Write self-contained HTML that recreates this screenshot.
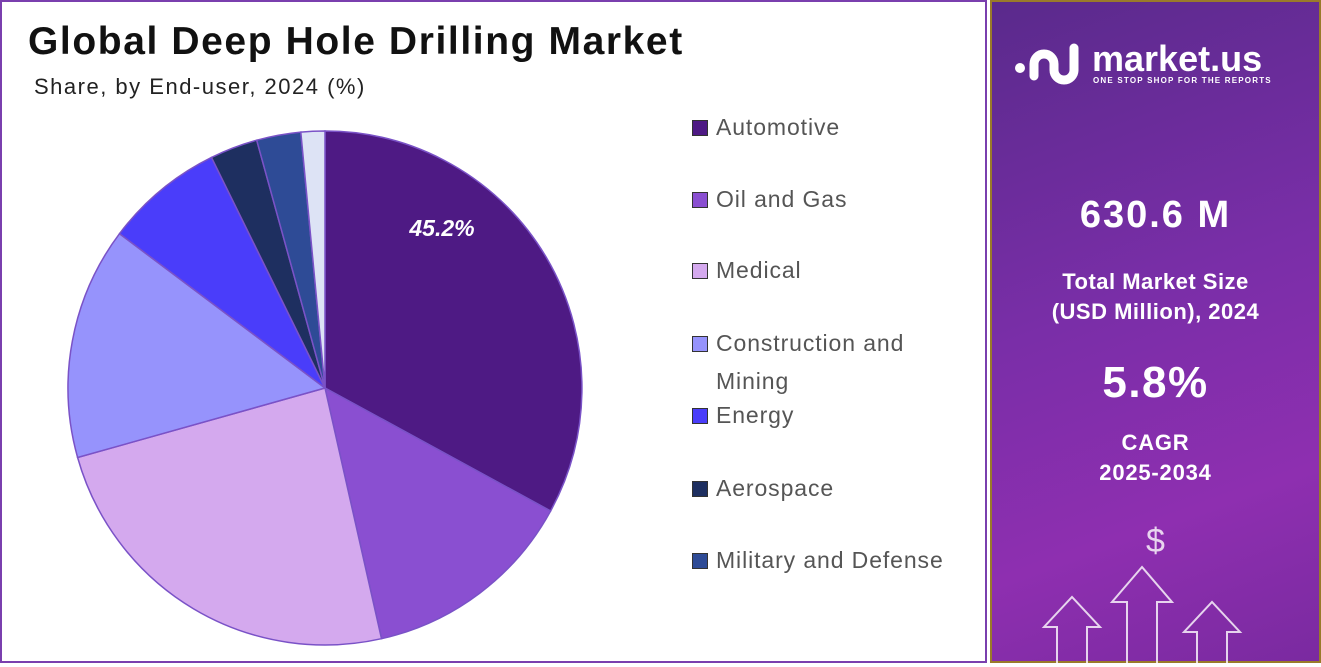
<!DOCTYPE html>
<html><head><meta charset="utf-8"><style>
body{margin:0;width:1321px;height:663px;overflow:hidden;background:#fff;font-family:"Liberation Sans",sans-serif;position:relative}
.left{position:absolute;left:0;top:0;width:983px;height:659px;border:2px solid #7a3fae;}
.right{position:absolute;left:990px;top:0;width:327px;height:659px;border:2px solid #9a7a2a;background:linear-gradient(160deg,#5a2a8c 0%,#7a2ea8 45%,#8e2fb0 75%,#7a2aa0 100%);color:#fff;text-align:center;font-weight:bold}
h1{position:absolute;left:26px;top:18px;margin:0;font-size:39px;font-weight:bold;color:#111;letter-spacing:1.6px}
.sub{position:absolute;left:32px;top:72px;font-size:22px;color:#222;letter-spacing:1.5px}
.lg{position:absolute;left:690px;font-size:23px;color:#555;line-height:38px;letter-spacing:0.9px}
.lg i{position:absolute;left:0;top:12px;width:14px;height:14px;border:1px solid #333}
.lg span{margin-left:24px;display:block}
</style></head><body>
<div class="left">
<h1>Global Deep Hole Drilling Market</h1>
<div class="sub">Share, by End-user, 2024 (%)</div>
<svg width="983" height="659" style="position:absolute;left:-2px;top:-2px">
<g stroke="#7a52c7" stroke-width="1.5">
<path d="M325 388 L325 131 A257 257 0 0 1 550.6 511 Z" fill="#4e1a84"/>
<path d="M325 388 L550.6 511 A257 257 0 0 1 381.5 638.7 Z" fill="#8a4fd1"/>
<path d="M325 388 L381.5 638.7 A257 257 0 0 1 77.6 457.5 Z" fill="#d4a9ee"/>
<path d="M325 388 L77.6 457.5 A257 257 0 0 1 119.5 233.7 Z" fill="#9693fc"/>
<path d="M325 388 L119.5 233.7 A257 257 0 0 1 211.5 157.4 Z" fill="#4a3dfa"/>
<path d="M325 388 L211.5 157.4 A257 257 0 0 1 256.7 140.2 Z" fill="#1e2f60"/>
<path d="M325 388 L256.7 140.2 A257 257 0 0 1 300.8 132.1 Z" fill="#2e4b96"/>
<path d="M325 388 L300.8 132.1 A257 257 0 0 1 325 131 Z" fill="#dde3f5"/>
</g>
<text x="442" y="236" fill="#fff" font-size="23" font-weight="bold" font-style="italic" text-anchor="middle">45.2%</text>
</svg>
<div class="lg" style="top:106px"><i style="background:#4e1a84"></i><span>Automotive</span></div>
<div class="lg" style="top:178px"><i style="background:#8a4fd1"></i><span>Oil and Gas</span></div>
<div class="lg" style="top:249px"><i style="background:#d4a9ee"></i><span>Medical</span></div>
<div class="lg" style="top:322px"><i style="background:#9693fc"></i><span>Construction and<br>Mining</span></div>
<div class="lg" style="top:394px"><i style="background:#4a3dfa"></i><span>Energy</span></div>
<div class="lg" style="top:467px"><i style="background:#1e2f60"></i><span>Aerospace</span></div>
<div class="lg" style="top:539px"><i style="background:#2e4b96"></i><span>Military and Defense</span></div>
</div>
<div class="right">
<svg width="80" height="50" style="position:absolute;left:18px;top:38px" fill="none" stroke="#fff" stroke-width="9" stroke-linecap="round">
<circle cx="10" cy="28" r="5" fill="#fff" stroke="none"/>
<path d="M24 36 V24 A10 10 0 0 1 44 24 V30 A10 10 0 0 0 64 30"/>
<path d="M64 30 V8"/>
</svg>
<div style="position:absolute;left:100px;top:36px;font-size:36px;letter-spacing:0px">market.us</div>
<div style="position:absolute;left:101px;top:74px;font-size:8px;letter-spacing:1.2px">ONE STOP SHOP FOR THE REPORTS</div>
<div style="position:absolute;left:0;width:327px;top:192px;font-size:38px;letter-spacing:2px">630.6 M</div>
<div style="position:absolute;left:0;width:327px;top:265px;font-size:22px;line-height:30px;letter-spacing:0.5px">Total Market Size<br>(USD Million), 2024</div>
<div style="position:absolute;left:0;width:327px;top:356px;font-size:44px;letter-spacing:1.5px">5.8%</div>
<div style="position:absolute;left:0;width:327px;top:426px;font-size:22px;line-height:30px;letter-spacing:0.8px">CAGR<br>2025-2034</div>
<div style="position:absolute;left:0;width:327px;top:520px;font-size:34px;font-weight:normal;opacity:.8">$</div>
<svg width="327" height="110" style="position:absolute;left:0;top:555px" fill="none" stroke="#fff" stroke-opacity=".8" stroke-width="2">
<path d="M135 110 V45 H120 L150 10 L180 45 H165 V110"/>
<path d="M65 110 V70 H52 L80 40 L108 70 H95 V110"/>
<path d="M205 110 V75 H192 L220 45 L248 75 H235 V110"/>
</svg>
</div>
</body></html>
